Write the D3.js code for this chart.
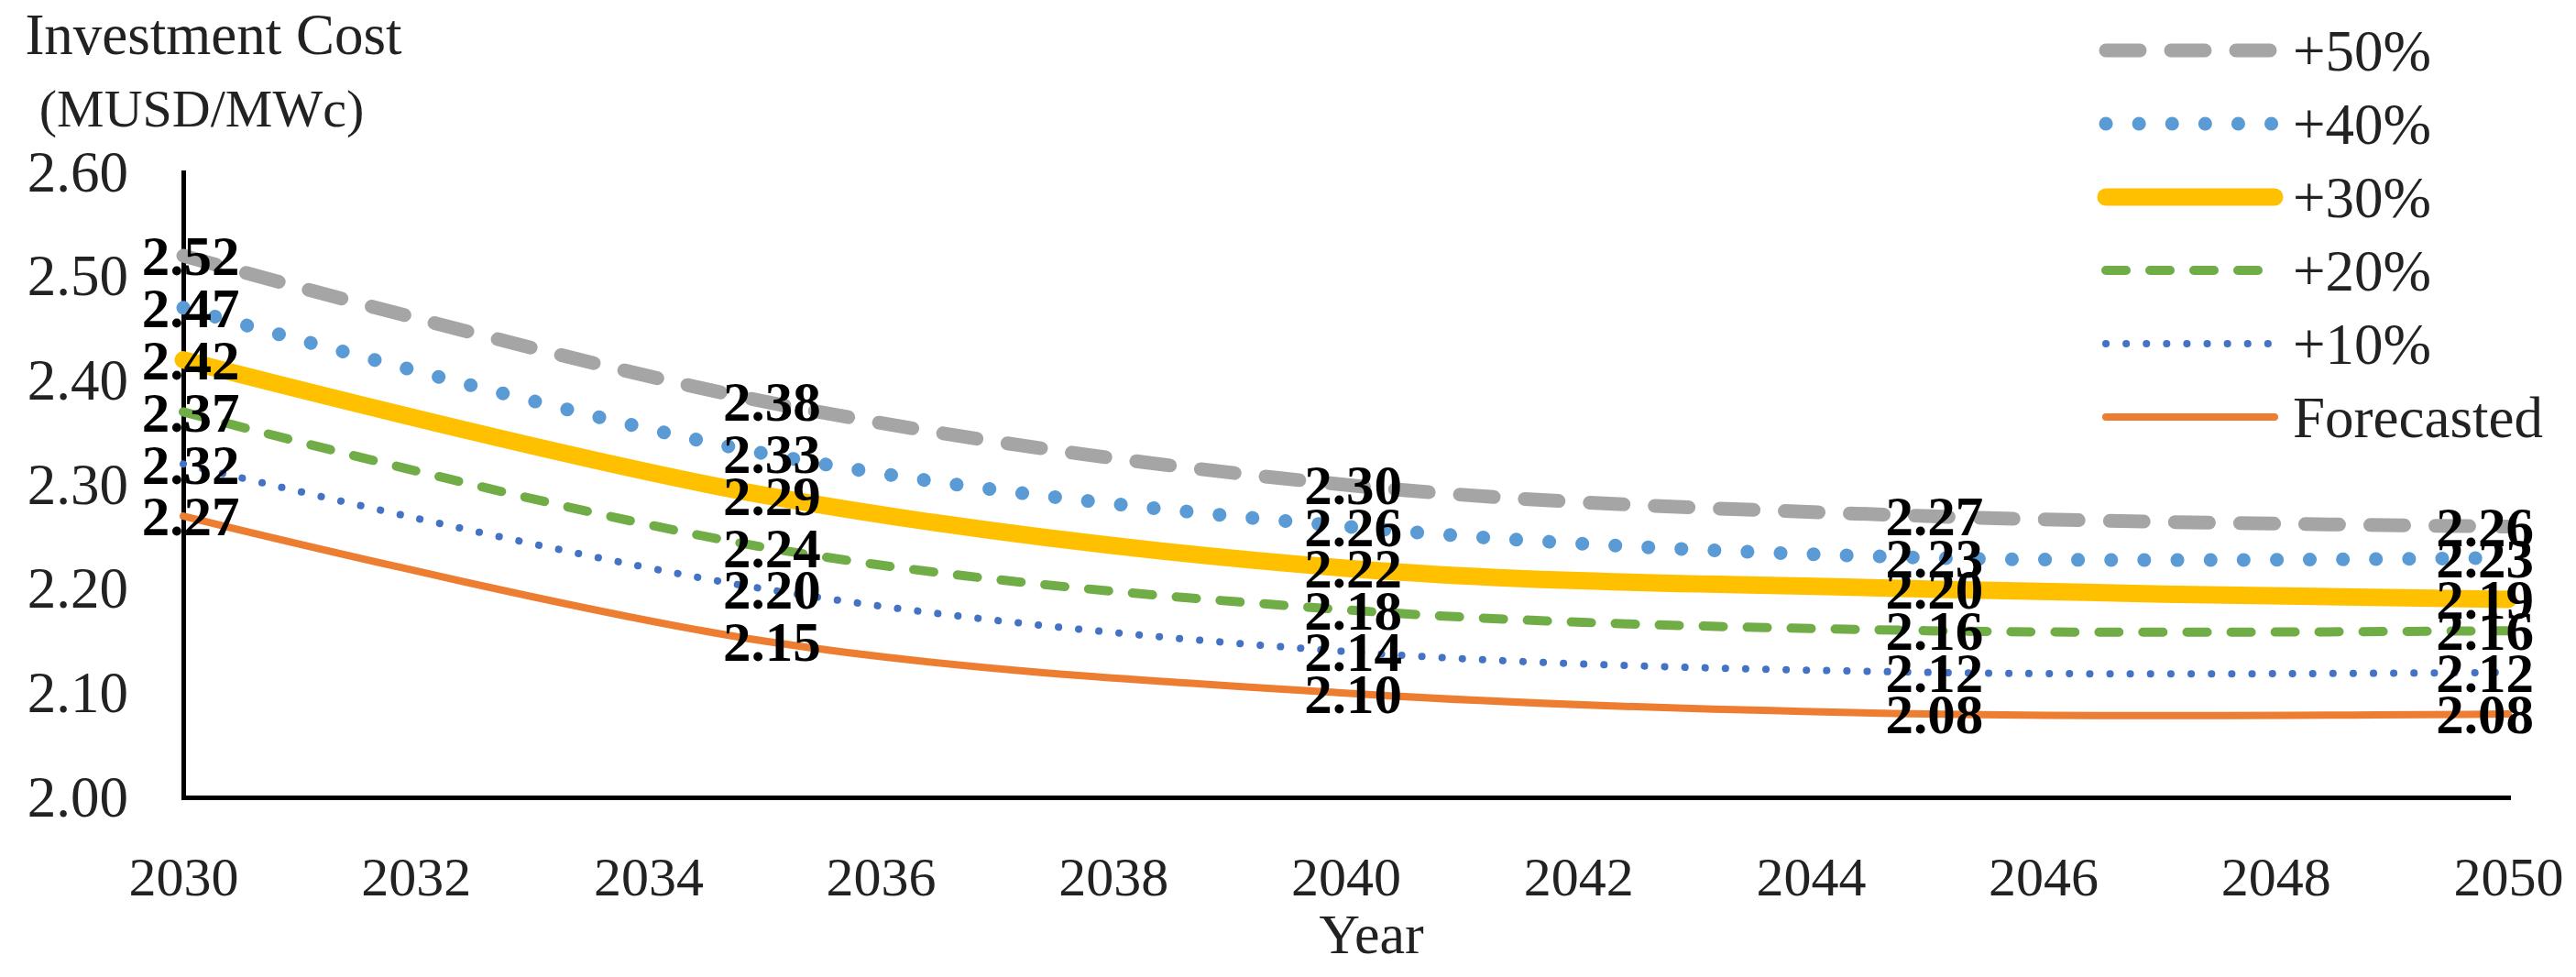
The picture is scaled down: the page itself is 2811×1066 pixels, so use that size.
<!DOCTYPE html>
<html>
<head>
<meta charset="utf-8">
<script src="https://cdn.jsdelivr.net/npm/d3@7"></script>
<style>
  body { margin: 0; background: #fff; }
  text { font-family: "Liberation Serif", "DejaVu Serif", serif; }
</style>
</head>
<body>
<svg width="2811" height="1066"></svg>
<script>
// data
const years = [2030, 2035, 2040, 2045, 2050];
const seriesNames = ["+50%", "+40%", "+30%", "+20%", "+10%", "Forecasted"];
const plus50 = [2.52, 2.38, 2.30, 2.27, 2.26];
const plus40 = [2.47, 2.33, 2.26, 2.23, 2.23];
const plus30 = [2.42, 2.29, 2.22, 2.20, 2.19];
const plus20 = [2.37, 2.24, 2.18, 2.16, 2.16];
const plus10 = [2.32, 2.20, 2.14, 2.12, 2.12];
const forecasted = [2.27, 2.15, 2.10, 2.08, 2.08];
const yTicks = [2.00, 2.10, 2.20, 2.30, 2.40, 2.50, 2.60];
const xTicks = [2030, 2032, 2034, 2036, 2038, 2040, 2042, 2044, 2046, 2048, 2050];

// line styles per series
const styles = [
    {color: "#A5A5A5", width: 15, dash: "37,34"},
    {color: "#5B9BD5", width: 15, dash: "0.1,36"},
    {color: "#FFC000", width: 19, dash: null},
    {color: "#70AD47", width: 10, dash: "22,26"},
    {color: "#4472C4", width: 8, dash: "0.1,22"},
    {color: "#ED7D31", width: 8, dash: null}
];

const allValues = [plus50, plus40, plus30, plus20, plus10, forecasted];
const series = seriesNames.map((name, i) => ({
    name: name,
    style: styles[i],
    points: years.map((yr, j) => ({year: yr, value: allValues[i][j]}))
}));

const svg = d3.select("svg");

const x = d3.scaleLinear().domain([2030, 2050]).range([200, 2737]);
const y = d3.scaleLinear().domain([2.0, 2.6]).range([870, 188]);

// y axis
const yAxis = svg.append("g")
    .attr("transform", "translate(200,0)")
    .call(d3.axisLeft(y).tickValues(yTicks).tickFormat(d3.format(".2f"))
        .tickSize(0).tickSizeOuter(0).tickPadding(60));

// x axis
const xAxis = svg.append("g")
    .attr("transform", "translate(0,870)")
    .call(d3.axisBottom(x).tickValues(xTicks).tickFormat(d3.format("d"))
        .tickSize(0).tickSizeOuter(0).tickPadding(64));

[yAxis, xAxis].forEach(a => {
    a.select(".domain").attr("stroke", "#000").attr("stroke-width", 5).attr("stroke-linecap", "square");
    a.selectAll("text")
        .attr("font-family", "Liberation Serif, DejaVu Serif, serif")
        .attr("fill", "#222");
});
yAxis.selectAll("text").attr("font-size", 63);
xAxis.selectAll("text").attr("font-size", 60);

// axis titles
svg.append("text")
    .attr("x", 233).attr("y", 59)
    .attr("text-anchor", "middle")
    .attr("font-size", 63).attr("fill", "#222")
    .text("Investment Cost");
svg.append("text")
    .attr("x", 220).attr("y", 138)
    .attr("text-anchor", "middle")
    .attr("font-size", 58).attr("fill", "#222")
    .text("(MUSD/MWc)");
svg.append("text")
    .attr("x", x(2040) + 28).attr("y", 1040)
    .attr("text-anchor", "middle")
    .attr("font-size", 62).attr("fill", "#222")
    .text("Year");

// smoothed lines
const line = d3.line()
    .x(d => x(d.year))
    .y(d => y(d.value))
    .curve(d3.curveCatmullRom.alpha(0.5));

svg.append("g").selectAll("path")
    .data(series)
    .join("path")
    .attr("d", d => line(d.points))
    .attr("fill", "none")
    .attr("stroke", d => d.style.color)
    .attr("stroke-width", d => d.style.width)
    .attr("stroke-dasharray", d => d.style.dash)
    .attr("stroke-linecap", "round");

// data labels, kept inside the right edge
const labels = svg.append("g");
series.forEach(s => {
    s.points.forEach(p => {
        const t = labels.append("text")
            .attr("x", x(p.year) + 8)
            .attr("y", y(p.value))
            .attr("dy", "0.35em")
            .attr("text-anchor", "middle")
            .attr("font-size", 61)
            .attr("font-weight", "bold")
            .attr("fill", "#000")
            .text(d3.format(".2f")(p.value));
        const w = t.node().getComputedTextLength();
        const cx = Math.min(x(p.year) + 8, 2765 - w / 2);
        t.attr("x", cx);
    });
});

// legend
const legend = svg.append("g");
series.forEach((s, i) => {
    const ly = 55 + i * 80;
    legend.append("line")
        .attr("x1", 2298).attr("x2", 2482)
        .attr("y1", ly).attr("y2", ly)
        .attr("stroke", s.style.color)
        .attr("stroke-width", s.style.width)
        .attr("stroke-dasharray", s.style.dash)
        .attr("stroke-linecap", "round");
    legend.append("text")
        .attr("x", 2502).attr("y", ly)
        .attr("dy", "0.35em")
        .attr("font-size", 63).attr("fill", "#222")
        .text(s.name);
});
</script>
</body>
</html>
